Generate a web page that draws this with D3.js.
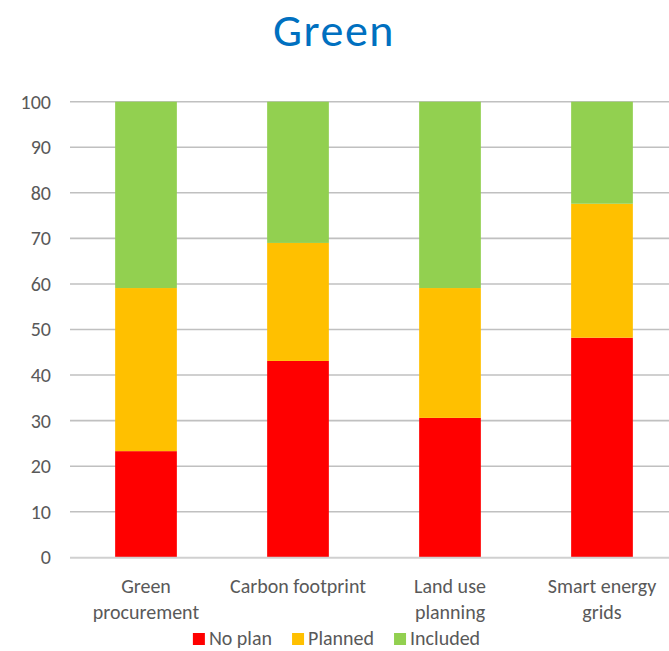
<!DOCTYPE html>
<html>
<head>
<meta charset="utf-8">
<script src="https://cdn.jsdelivr.net/npm/d3@7"></script>
<style>
  html, body { margin: 0; padding: 0; background: #fff; }
  svg { display: block; font-family: Carlito, Lato, "Open Sans", sans-serif; }
</style>
</head>
<body>
<svg id="chart" width="669" height="651"></svg>
<script>
// Share of cities per measure, by planning status (percent)
const categories = [["Green", "procurement"], ["Carbon footprint"], ["Land use", "planning"], ["Smart energy", "grids"]];
const seriesNames = ["No plan", "Planned", "Included"];
const noPlan   = [23.3, 43.1, 30.6, 48.2];
const planned  = [35.8, 25.9, 28.5, 29.4];
const included = [40.9, 31.0, 40.9, 22.4];
const yTicks = [0, 10, 20, 30, 40, 50, 60, 70, 80, 90, 100];
const colors = ["#ff0000", "#ffc000", "#92d050"];

const svg = d3.select("#chart");
const W = 669, H = 651;
const plot = { left: 70, right: 678, top: 101.7, bottom: 557.3 };
const fontFamily = "Carlito, Lato, 'Open Sans', sans-serif";

const keys = categories.map(c => c.join(" "));
const rows = keys.map((k, i) => ({ key: k, "No plan": noPlan[i], "Planned": planned[i], "Included": included[i] }));
const stacked = d3.stack().keys(seriesNames)(rows);

const x = d3.scaleBand().domain(keys).range([plot.left, plot.right]).paddingInner(0.594).paddingOuter(0.297);
const y = d3.scaleLinear().domain([0, 100]).range([plot.bottom, plot.top]);

// Title
svg.append("text")
  .attr("x", 334).attr("y", 46)
  .attr("text-anchor", "middle")
  .attr("fill", "#0070c0")
  .attr("font-size", 46)
  .attr("letter-spacing", 1.5)
  .text("Green");

// Horizontal gridlines
svg.append("g").selectAll("line")
  .data(yTicks.filter(t => t > 0))
  .join("line")
  .attr("x1", plot.left).attr("x2", W)
  .attr("y1", d => y(d)).attr("y2", d => y(d))
  .attr("stroke", "#c0c0c0").attr("stroke-width", 1.6);

// Y axis labels
const yAxis = svg.append("g")
  .attr("transform", `translate(${plot.left},0)`)
  .call(d3.axisLeft(y).tickValues(yTicks).tickSize(0).tickPadding(19));
yAxis.select(".domain").remove();
yAxis.selectAll("text")
  .attr("fill", "#595959")
  .attr("font-size", 20)
  .attr("font-family", fontFamily);

// Stacked bars
svg.append("g").selectAll("g")
  .data(stacked)
  .join("g")
  .attr("fill", (d, i) => colors[i])
  .selectAll("rect")
  .data(d => d)
  .join("rect")
  .attr("x", d => x(d.data.key))
  .attr("width", x.bandwidth())
  .attr("y", d => y(d[1]))
  .attr("height", d => y(d[0]) - y(d[1]));

// Baseline
svg.append("line")
  .attr("x1", plot.left).attr("x2", W)
  .attr("y1", y(0) + 0.5).attr("y2", y(0) + 0.5)
  .attr("stroke", "#d0d0d0").attr("stroke-width", 2);

// Category labels
const xLabels = svg.append("g").selectAll("text")
  .data(categories)
  .join("text")
  .attr("x", (d, i) => x(keys[i]) + x.bandwidth() / 2)
  .attr("y", 593)
  .attr("text-anchor", "middle")
  .attr("fill", "#595959")
  .attr("font-size", 20);
xLabels.selectAll("tspan")
  .data(d => d)
  .join("tspan")
  .attr("x", function () { return this.parentNode.getAttribute("x"); })
  .attr("dy", (d, i) => i === 0 ? 0 : 26)
  .text(d => d);

// Legend
const legend = svg.append("g");
let lx = 0;
seriesNames.forEach((name, i) => {
  const item = legend.append("g").attr("transform", `translate(${lx},0)`);
  item.append("rect").attr("x", 0).attr("y", -12).attr("width", 12).attr("height", 12).attr("fill", colors[i]);
  const t = item.append("text").attr("x", 16).attr("y", 0)
    .attr("fill", "#595959").attr("font-size", 20).text(name);
  lx += 16 + t.node().getComputedTextLength() + 20;
});
const legendWidth = lx - 20;
legend.attr("transform", `translate(${336.5 - legendWidth / 2},645)`);
</script>
</body>
</html>
